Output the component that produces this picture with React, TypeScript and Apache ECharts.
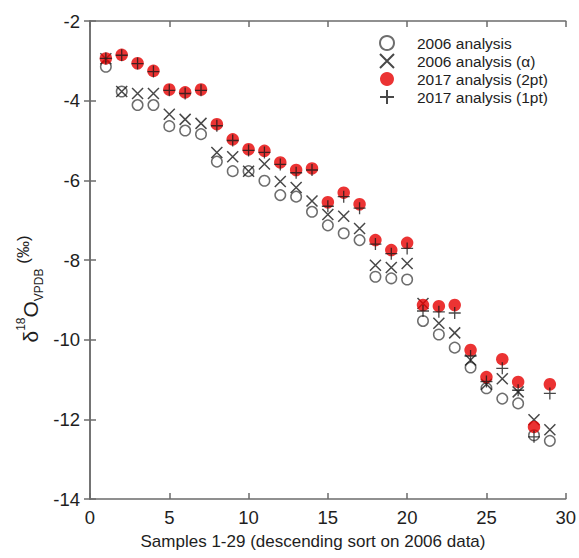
import React, { useEffect, useRef } from "react";
import * as echarts from "echarts";

const samples = [1,2,3,4,5,6,7,8,9,10,11,12,13,14,15,16,17,18,19,20,21,22,23,24,25,26,27,28,29];
const a2006 = [-3.15,-3.77,-4.11,-4.11,-4.64,-4.75,-4.84,-5.53,-5.77,-5.77,-6.01,-6.37,-6.41,-6.79,-7.13,-7.33,-7.50,-8.42,-8.46,-8.49,-9.53,-9.87,-10.20,-10.70,-11.22,-11.48,-11.60,-12.40,-12.54];
const a2006alpha = [-2.95,-3.77,-3.82,-3.82,-4.34,-4.47,-4.57,-5.30,-5.41,-5.77,-5.59,-6.03,-6.18,-6.52,-6.86,-6.90,-7.21,-8.13,-8.19,-8.09,-9.09,-9.59,-9.83,-10.51,-11.12,-10.98,-11.31,-12.01,-12.26];
const a2017two = [-2.94,-2.85,-3.06,-3.25,-3.72,-3.79,-3.72,-4.59,-4.97,-5.22,-5.26,-5.55,-5.74,-5.70,-6.55,-6.31,-6.60,-7.50,-7.75,-7.57,-9.13,-9.16,-9.13,-10.26,-10.94,-10.49,-11.06,-12.19,-11.12];
const a2017one = [-2.94,-2.86,-3.07,-3.27,-3.74,-3.82,-3.74,-4.63,-5.00,-5.25,-5.30,-5.60,-5.81,-5.74,-6.65,-6.41,-6.70,-7.60,-7.84,-7.71,-9.28,-9.30,-9.33,-10.41,-11.05,-10.72,-11.27,-12.44,-11.35];

const names = ["2006 analysis", "2006 analysis (\u03b1)", "2017 analysis (2pt)", "2017 analysis (1pt)"];
const xTitle = "Samples 1-29 (descending sort on 2006 data)";

const CROSS = "path://M0,0L10,10M10,0L0,10";
const PLUS = "path://M5,0L5,10M0,5L10,5";

const font = "Arial, 'Liberation Sans', Helvetica, sans-serif";
const txt = "#1e1e1e";

function pts(ys: number[]) {
  return samples.map((x, i) => [x, ys[i]]);
}

export default function App() {
  const ref = useRef<HTMLDivElement>(null);
  useEffect(() => {
    if (!ref.current) return;
    const chart = echarts.init(ref.current, null, { renderer: "svg" });
    const axisLine = { show: true, lineStyle: { color: "#6b6b6b", width: 1.5 } };
    const axisTick = { show: true, inside: true, length: 6, lineStyle: { color: "#6b6b6b", width: 1.5 } };
    chart.setOption({
      animation: false,
      backgroundColor: "#ffffff",
      grid: { left: 90, right: 12, top: 21, bottom: 59, containLabel: false },
      legend: {
        orient: "vertical",
        left: 374,
        top: 29,
        itemWidth: 14,
        itemHeight: 14,
        itemGap: 0,
        textStyle: { fontFamily: font, fontSize: 15.5, color: txt, lineHeight: 18, padding: [0, 0, 0, 18] },
        data: names,
      },
      graphic: [
        {
          type: "text",
          x: 30,
          y: 289,
          rotation: Math.PI / 2,
          style: {
            text: "{a|\u03b4}{sup|18}{a|O}{sub|VPDB}{sup2| (\u2030)}",
            align: "center",
            verticalAlign: "middle",
            fill: txt,
            rich: {
              a: { fontFamily: font, fontSize: 21, fill: txt, lineHeight: 30, verticalAlign: "middle" },
              sup: { fontFamily: font, fontSize: 12, fill: txt, lineHeight: 30, verticalAlign: "top" },
              sub: { fontFamily: font, fontSize: 12, fill: txt, lineHeight: 30, verticalAlign: "bottom" },
              sup2: { fontFamily: font, fontSize: 17, fill: txt, lineHeight: 30, verticalAlign: "top" },
            },
          },
        },
        {
          type: "text",
          x: 313,
          y: 541,
          style: {
            text: xTitle,
            align: "center",
            verticalAlign: "middle",
            fontFamily: font,
            fontSize: 17,
            fill: txt,
          },
        },
      ],
      xAxis: [
        {
          type: "value", min: 0, max: 30, interval: 5,
          axisLine, axisTick, splitLine: { show: false },
          axisLabel: { fontFamily: font, fontSize: 18.5, color: txt, margin: 9 },
        },
        {
          type: "value", min: 0, max: 30, interval: 5, position: "top",
          axisLine, axisTick, axisLabel: { show: false }, splitLine: { show: false },
        },
      ],
      yAxis: [
        {
          type: "value", min: -14, max: -2, interval: 2,
          axisLine, axisTick, splitLine: { show: false },
          axisLabel: { fontFamily: font, fontSize: 18.5, color: txt, margin: 10 },
        },
        {
          type: "value", min: -14, max: -2, interval: 2, position: "right",
          axisLine, axisTick, axisLabel: { show: false }, splitLine: { show: false },
        },
      ],
      series: [
        {
          name: names[0], type: "scatter", data: pts(a2006), symbol: "circle", symbolSize: 10.5,
          itemStyle: { color: "#ffffff", borderColor: "#484848", borderWidth: 1.5 }, z: 2,
        },
        {
          name: names[1], type: "scatter", data: pts(a2006alpha), symbol: CROSS, symbolSize: 11,
          itemStyle: { color: "rgba(0,0,0,0)", borderColor: "#1a1a1a", borderWidth: 1.5 }, z: 3,
        },
        {
          name: names[2], type: "scatter", data: pts(a2017two), symbol: "circle", symbolSize: 12.5,
          itemStyle: { color: "#e60000" }, z: 4,
        },
        {
          name: names[3], type: "scatter", data: pts(a2017one), symbol: PLUS, symbolSize: 12,
          itemStyle: { color: "rgba(0,0,0,0)", borderColor: "#1a1a1a", borderWidth: 1.3 }, z: 5,
        },
      ],
    });
    return () => chart.dispose();
  }, []);
  return <div ref={ref} style={{ width: 579, height: 558, position: "absolute", left: 0, top: 0 }} />;
}
